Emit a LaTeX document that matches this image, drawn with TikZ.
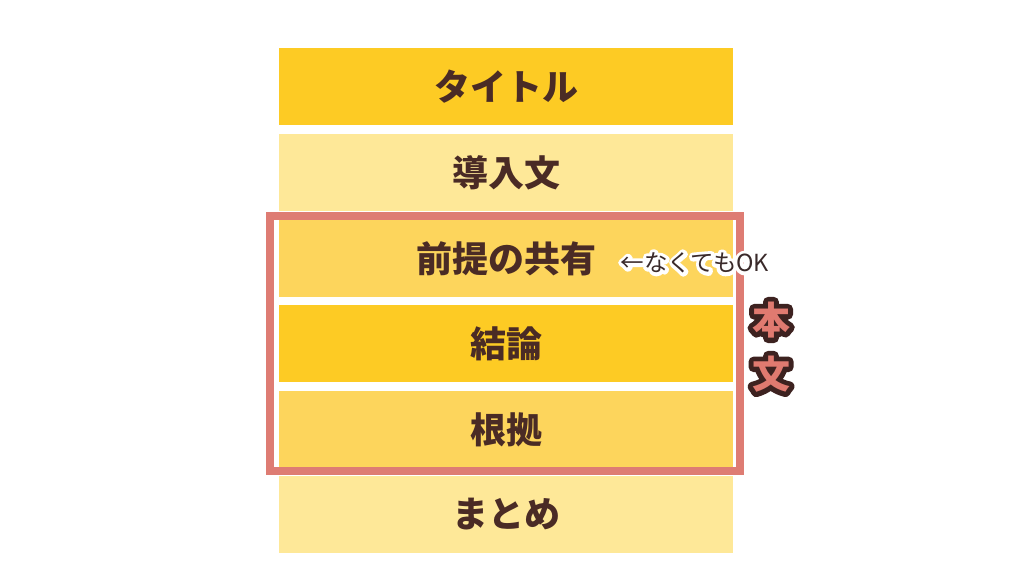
\documentclass[tikz,border=0pt]{standalone}
\usepackage{fontspec}
\newfontfamily\jp{Noto Sans CJK JP}
\definecolor{gold}{HTML}{FDCB24}
\definecolor{midy}{HTML}{FDD55C}
\definecolor{lighty}{HTML}{FEE898}
\definecolor{framec}{HTML}{DE7C73}
\definecolor{txt}{HTML}{4A2B25}
\definecolor{hbfill}{HTML}{E07A70}
\definecolor{hbline}{HTML}{3D2220}
\definecolor{note}{HTML}{3A2A2A}
\newcommand\strokedtext[3]{{\color{#2}\special{pdf:literal direct 1 j 1 J #1 w 1 Tr}#3\special{pdf:literal direct 0 Tr}}}
\tikzset{
  box/.style={draw=none, minimum width=454pt, minimum height=77pt, inner sep=0pt,
    text=txt, font=\jp\bfseries\fontsize{36}{40}\selectfont},
  framebox/.style={draw=framec, line width=8pt, minimum width=470pt, minimum height=255pt, inner sep=0pt},
  hbtxt/.style={inner sep=0pt, font=\jp\bfseries\fontsize{38}{40}\selectfont},
  notetxt/.style={inner sep=0pt, font=\jp\fontsize{23.5}{26}\selectfont}
}
\begin{document}
\begin{tikzpicture}[x=1pt,y=-1pt]
\useasboundingbox (0,0) rectangle (1024,576);
\fill[white] (0,0) rectangle (1024,576);
\node[box, fill=gold]   (title)  at (506,86.5)  {タイトル};
\node[box, fill=lighty] (intro)  at (506,172.5) {導入文};
\node[box, fill=midy]   (prem)   at (506,258.5) {前提の共有};
\node[box, fill=gold]   (concl)  at (506,343.5) {結論};
\node[box, fill=midy]   (reason) at (506,429.5) {根拠};
\node[box, fill=lighty] (summ)   at (506,514.5) {まとめ};
\node[framebox] (honbun) at (504.5,343.5) {};
% annotation with white halo
\node[notetxt] (notehalo) at (695,263) {\strokedtext{7}{white}{←なくてもOK}};
\node[notetxt, text=note] (notelabel) at (695,263) {←なくてもOK};
% outlined 本文
\node[hbtxt] (honhalo) at (771,320) {\strokedtext{10}{hbline}{本}};
\node[hbtxt] (bunhalo) at (771,374) {\strokedtext{10}{hbline}{文}};
\node[hbtxt, text=hbfill] (hon) at (771,320) {本};
\node[hbtxt, text=hbfill] (bun) at (771,374) {文};
\end{tikzpicture}
\end{document}
